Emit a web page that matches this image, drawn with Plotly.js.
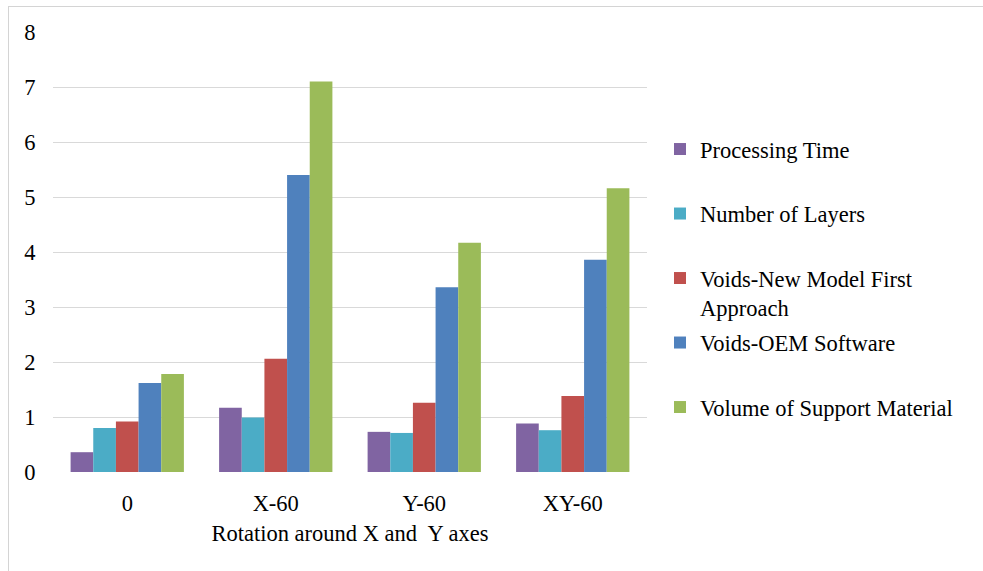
<!DOCTYPE html>
<html>
<head>
<meta charset="utf-8">
<script src="https://cdn.plot.ly/plotly-3.0.1.min.js"></script>
<style>
  html, body { margin: 0; padding: 0; background: #ffffff; }
  #frame { position: absolute; left: 8px; top: 6px; width: 1100px; height: 700px; border: 1px solid #d4d4d4; box-sizing: border-box; }
  #chart { position: absolute; left: 0; top: 0; width: 983px; height: 571px; }
</style>
</head>
<body>
<div id="frame"></div>
<div id="chart"></div>
<script>
const categories = ['0', 'X-60', 'Y-60', 'XY-60'];
const seriesNames = [
  'Processing Time',
  'Number of Layers',
  'Voids-New Model First<br>Approach',
  'Voids-OEM Software',
  'Volume of Support Material'
];
const processingTime = [0.36, 1.17, 0.73, 0.88];
const numberOfLayers = [0.80, 0.99, 0.71, 0.76];
const voidsNewModel = [0.92, 2.06, 1.26, 1.38];
const voidsOEM = [1.62, 5.40, 3.36, 3.86];
const volumeSupport = [1.78, 7.10, 4.17, 5.16];
const yTicks = [0, 1, 2, 3, 4, 5, 6, 7, 8];

const colors = ['#8064A2', '#4BACC6', '#C0504D', '#4F81BD', '#9BBB59'];
const values = [processingTime, numberOfLayers, voidsNewModel, voidsOEM, volumeSupport];

const font = "'Liberation Serif', 'Times New Roman', serif";
const fs = 22.5;

const traces = values.map((v, i) => {
  let name = seriesNames[i];
  if (name.indexOf('<br>') < 0) name = name + '<br>&nbsp;';
  return {
    type: 'bar',
    x: categories,
    y: v,
    name: name,
    legendgroup: 'g' + i,
    marker: { color: colors[i], line: { width: 0 } },
    hoverinfo: 'y'
  };
});

const layout = {
  width: 983,
  height: 571,
  paper_bgcolor: 'rgba(0,0,0,0)',
  plot_bgcolor: 'rgba(0,0,0,0)',
  margin: { l: 53, r: 336, t: 32, b: 99 },
  barmode: 'group',
  bargap: 0.237,
  bargroupgap: 0,
  font: { family: font, size: fs, color: '#000000' },
  showlegend: true,
  legend: {
    xref: 'container', yref: 'container',
    x: 0.6714, y: 0.776,
    xanchor: 'left', yanchor: 'top',
    valign: 'top',
    tracegroupgap: 3,
    maxheight: 560,
    font: { family: font, size: fs, color: '#000000' },
    bgcolor: 'rgba(0,0,0,0)'
  },
  xaxis: {
    type: 'category',
    showgrid: false,
    showline: false,
    zeroline: false,
    ticks: 'outside',
    ticklen: 11,
    tickcolor: 'rgba(0,0,0,0)',
    tickfont: { family: font, size: fs, color: '#000000' },
    title: { text: 'Rotation around X and  Y axes', font: { family: font, size: fs, color: '#000000' }, standoff: 10 }
  },
  yaxis: {
    range: [0, 8],
    tickvals: yTicks,
    ticktext: yTicks.map(String),
    showgrid: true,
    gridcolor: '#d9d9d9',
    gridwidth: 1,
    zeroline: false,
    showline: false,
    ticks: 'outside',
    ticklen: 12,
    tickcolor: 'rgba(0,0,0,0)',
    tickfont: { family: font, size: fs, color: '#000000' }
  }
};

Plotly.newPlot('chart', traces, layout, { displayModeBar: false, staticPlot: true });
</script>
</body>
</html>
